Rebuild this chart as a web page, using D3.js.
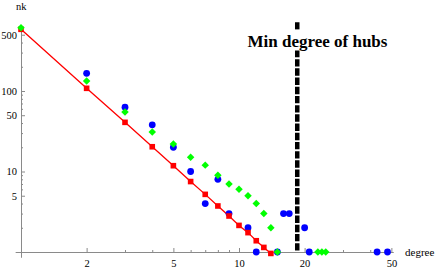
<!DOCTYPE html>
<html>
<head>
<meta charset="utf-8">
<script src="https://cdn.jsdelivr.net/npm/d3@7"></script>
<style>
  body { margin: 0; background: #fff; }
  svg { display: block; }
  text { font-family: "Liberation Serif", "Times New Roman", serif; }
</style>
</head>
<body>
<svg id="chart" width="436" height="271"></svg>
<script>
// power-law fit (red, joined)
const redDegrees = [1, 2, 3, 4, 5, 6, 7, 8, 9, 10, 11, 12, 13, 14];
const redValues = [584, 108, 40.8, 20.3, 11.8, 7.5, 5.2, 3.73, 2.8, 2.14, 1.74, 1.38, 1.14, 0.96];

// blue sample
const blueDegrees = [2, 3, 4, 5, 6, 7, 8, 9, 11, 12, 15, 16, 17, 20, 21, 43, 48];
const blueValues = [166, 63, 38, 20, 10, 4, 8, 3, 2, 1, 1, 3, 3, 2, 1, 1, 1];

// green sample
const greenDegrees = [1, 2, 3, 4, 5, 6, 7, 8, 9, 10, 11, 12, 13, 14, 15, 23, 24, 25];
const greenValues = [611, 133, 55, 31, 22, 15, 12, 9, 7, 6, 5, 4, 3, 2, 1, 1, 1, 1];

const xMajorTicks = [2, 5, 10, 20, 50];
const xMinorTicks = [3, 4, 6, 7, 8, 9, 30, 40];
const yMajorTicks = [5, 10, 50, 100, 500];
const yMinorTicks = [2, 3, 4, 6, 7, 8, 9, 20, 30, 40, 60, 70, 80, 90, 200, 300, 400];

const hubDegree = 18.5;
const hubTop = 713;
const hubLabel = 'Min degree of hubs';

const svg = d3.select('#chart');
const axisColor = '#8a8a8a';

// log scales: one decade = 218px on x, 80.5px on y
const xBase = d3.scaleLog().domain([1, 10]).range([21, 239]);
const yBase = d3.scaleLog().domain([1, 10]).range([252, 171.5]);
const x = d3.scaleLog().domain([0.94, 51]).range([xBase(0.94), xBase(51)]);
const y = d3.scaleLog().domain([0.86, 650]).range([yBase(0.86), yBase(650)]);

// x axis
svg.append('g')
    .attr('transform', `translate(0,${y(1)})`)
    .call(d3.axisBottom(x).tickValues(xMajorTicks).tickSize(-4).tickSizeOuter(0)
        .tickPadding(8).tickFormat(d3.format('d')));
svg.append('g')
    .attr('transform', `translate(0,${y(1)})`)
    .call(d3.axisBottom(x).tickValues(xMinorTicks).tickSize(-2).tickSizeOuter(0).tickFormat(''))
    .call(g => g.select('.domain').remove());

// y axis
svg.append('g')
    .attr('transform', `translate(${x(1)},0)`)
    .call(d3.axisLeft(y).tickValues(yMajorTicks).tickSize(-4).tickSizeOuter(0)
        .tickPadding(4).tickFormat(d3.format('d')));
svg.append('g')
    .attr('transform', `translate(${x(1)},0)`)
    .call(d3.axisLeft(y).tickValues(yMinorTicks).tickSize(-2).tickSizeOuter(0).tickFormat(''))
    .call(g => g.select('.domain').remove());

svg.selectAll('.domain, .tick line').attr('stroke', axisColor);
svg.selectAll('.tick text')
    .attr('fill', '#000')
    .style('font-family', '"Liberation Serif", "Times New Roman", serif')
    .style('font-size', '10.5px');

// axis labels
svg.append('text').attr('x', 16).attr('y', 10)
    .style('font-size', '10.5px').text('nk');
svg.append('text').attr('x', 405).attr('y', 255.5)
    .style('font-size', '11px').text('degree');

// hub threshold
svg.append('line')
    .attr('x1', x(hubDegree)).attr('x2', x(hubDegree))
    .attr('y1', y(hubTop)).attr('y2', y(1))
    .attr('stroke', '#000')
    .attr('stroke-width', 4.5)
    .attr('stroke-dasharray', '7.4,1.8');
svg.append('rect')
    .attr('x', 245).attr('y', 29.5)
    .attr('width', 146).attr('height', 21)
    .attr('fill', '#fff');
svg.append('text')
    .attr('x', 247.5).attr('y', 46.5)
    .style('font-size', '17px')
    .style('font-weight', 'bold')
    .text(hubLabel);

// red fit line
const redPoints = redDegrees.map((d, i) => [d, redValues[i]]);
svg.append('path')
    .datum(redPoints)
    .attr('fill', 'none')
    .attr('stroke', '#ff0000')
    .attr('stroke-width', 1.3)
    .attr('d', d3.line().x(d => x(d[0])).y(d => y(d[1])));

// blue circles
svg.append('g').selectAll('circle')
    .data(blueDegrees.map((d, i) => [d, blueValues[i]]))
    .join('circle')
    .attr('cx', d => x(d[0]))
    .attr('cy', d => y(d[1]))
    .attr('r', 3.4)
    .attr('fill', '#0000ff');

// red squares
svg.append('g').selectAll('rect')
    .data(redPoints)
    .join('rect')
    .attr('x', d => x(d[0]) - 2.8)
    .attr('y', d => y(d[1]) - 2.8)
    .attr('width', 5.6)
    .attr('height', 5.6)
    .attr('fill', '#ff0000');

// green diamonds
const diamond = d3.symbol().type(d3.symbolSquare).size(28);
svg.append('g').selectAll('path')
    .data(greenDegrees.map((d, i) => [d, greenValues[i]]))
    .join('path')
    .attr('d', diamond)
    .attr('transform', d => `translate(${x(d[0])},${y(d[1])}) rotate(45)`)
    .attr('fill', '#00ff00');
</script>
</body>
</html>
